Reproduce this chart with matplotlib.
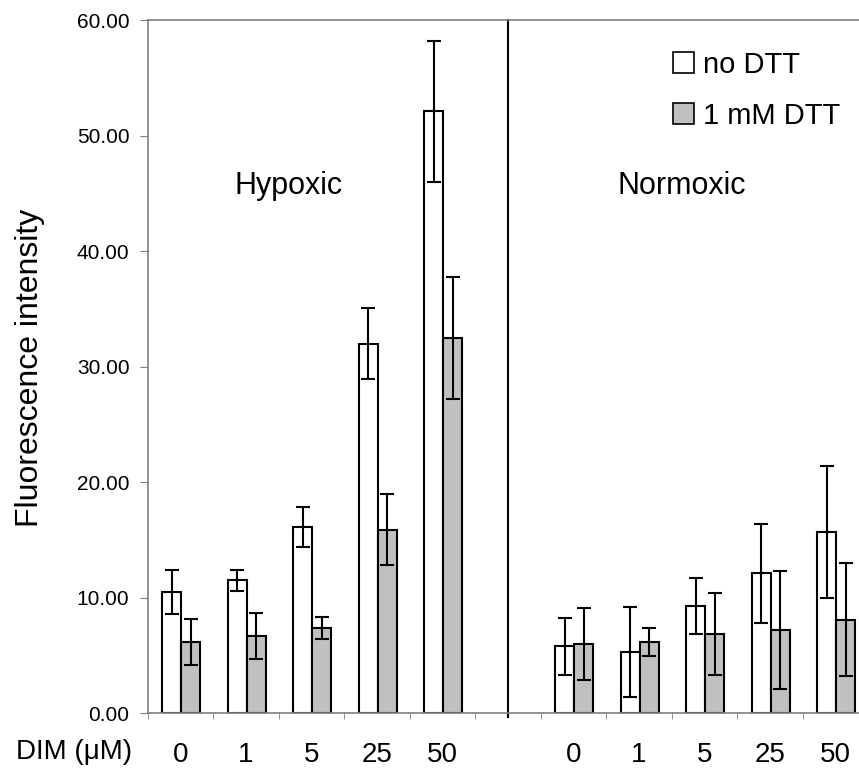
import matplotlib as mpl
mpl.use("Agg")
import matplotlib.pyplot as plt
import numpy as np
from matplotlib.patches import Patch

plt.rcParams["font.family"] = ["Liberation Sans", "DejaVu Sans"]

# DIM concentrations (uM) for each condition
doses = ["0", "1", "5", "25", "50"]

# Hypoxic
hyp_no_dtt = [10.5, 11.5, 16.1, 32.0, 52.1]
hyp_no_dtt_err = [1.9, 0.9, 1.75, 3.05, 6.1]
hyp_dtt = [6.2, 6.7, 7.4, 15.9, 32.5]
hyp_dtt_err = [2.0, 2.0, 0.95, 3.1, 5.3]

# Normoxic
nor_no_dtt = [5.8, 5.3, 9.3, 12.1, 15.7]
nor_no_dtt_err = [2.45, 3.9, 2.4, 4.25, 5.7]
nor_dtt = [6.0, 6.2, 6.9, 7.2, 8.1]
nor_dtt_err = [3.1, 1.2, 3.55, 5.1, 4.9]

gray = "#c0c0c0"
axis_gray = "#808080"

# 11 slots: 5 hypoxic, 1 empty separator, 5 normoxic
x_hyp = np.arange(5)
x_nor = np.arange(6, 11)
x_all = np.concatenate([x_hyp, x_nor])
no_dtt = hyp_no_dtt + nor_no_dtt
no_dtt_err = hyp_no_dtt_err + nor_no_dtt_err
dtt = hyp_dtt + nor_dtt
dtt_err = hyp_dtt_err + nor_dtt_err

w = 0.29
fig = plt.figure(figsize=(8.59, 7.73), dpi=100)
ax = fig.add_axes([147.5 / 859, 59.7 / 773, 720.5 / 859, 693.3 / 773])

err_kw = dict(ecolor="black", elinewidth=1.5, capsize=5, capthick=1.5)
ax.bar(x_all - 0.13, no_dtt, w, yerr=no_dtt_err, color="white",
       edgecolor="black", linewidth=1.5, error_kw=err_kw, zorder=2)
ax.bar(x_all + 0.16, dtt, w, yerr=dtt_err, color=gray,
       edgecolor="black", linewidth=1.5, error_kw=err_kw, zorder=2)

# separator between hypoxic and normoxic
ax.axvline(5, ymin=-0.006, ymax=1, color="black", lw=1.5, clip_on=False)

ax.set_xlim(-0.5, 10.5)
ax.set_ylim(0, 60)
ax.set_yticks(np.arange(0, 61, 10))
ax.yaxis.set_major_formatter(mpl.ticker.StrMethodFormatter("{x:.2f}"))

ax.set_xticks(np.arange(11))
ax.set_xticklabels(doses + [""] + doses)
ax.set_xticks(np.arange(-0.5, 11, 1), minor=True)
ax.tick_params(axis="x", which="major", length=0, pad=21, labelsize=20)
ax.tick_params(axis="x", which="minor", length=4, color=axis_gray, direction="out")
ax.tick_params(axis="y", length=6, color=axis_gray, pad=7, labelsize=15)

for side in ["left", "top", "bottom", "right"]:
    ax.spines[side].set_color(axis_gray)
    ax.spines[side].set_linewidth(1.2)

ax.set_ylabel("Fluorescence intensity", fontsize=23)
ax.yaxis.set_label_coords(-0.142, 0.498)

ax.text(-0.1825, -0.056, "DIM (\u03bcM)", transform=ax.transAxes,
        ha="left", va="center", fontsize=20)

ax.text(1.65, 45.6, "Hypoxic", ha="center", va="center", fontsize=22)
ax.text(7.66, 45.6, "Normoxic", ha="center", va="center", fontsize=22)

handles = [Patch(facecolor="white", edgecolor="black", linewidth=1.2),
           Patch(facecolor=gray, edgecolor="black", linewidth=1.2)]
ax.legend(handles, ["no DTT", "1 mM DTT"], loc="upper right",
          bbox_to_anchor=(855 / 859, 1 - 36 / 773), bbox_transform=fig.transFigure,
          frameon=False, fontsize=21, handlelength=0.75, handleheight=0.75,
          handletextpad=0.3, labelspacing=0.8, borderpad=0)

fig.savefig("out.png", dpi=100)
